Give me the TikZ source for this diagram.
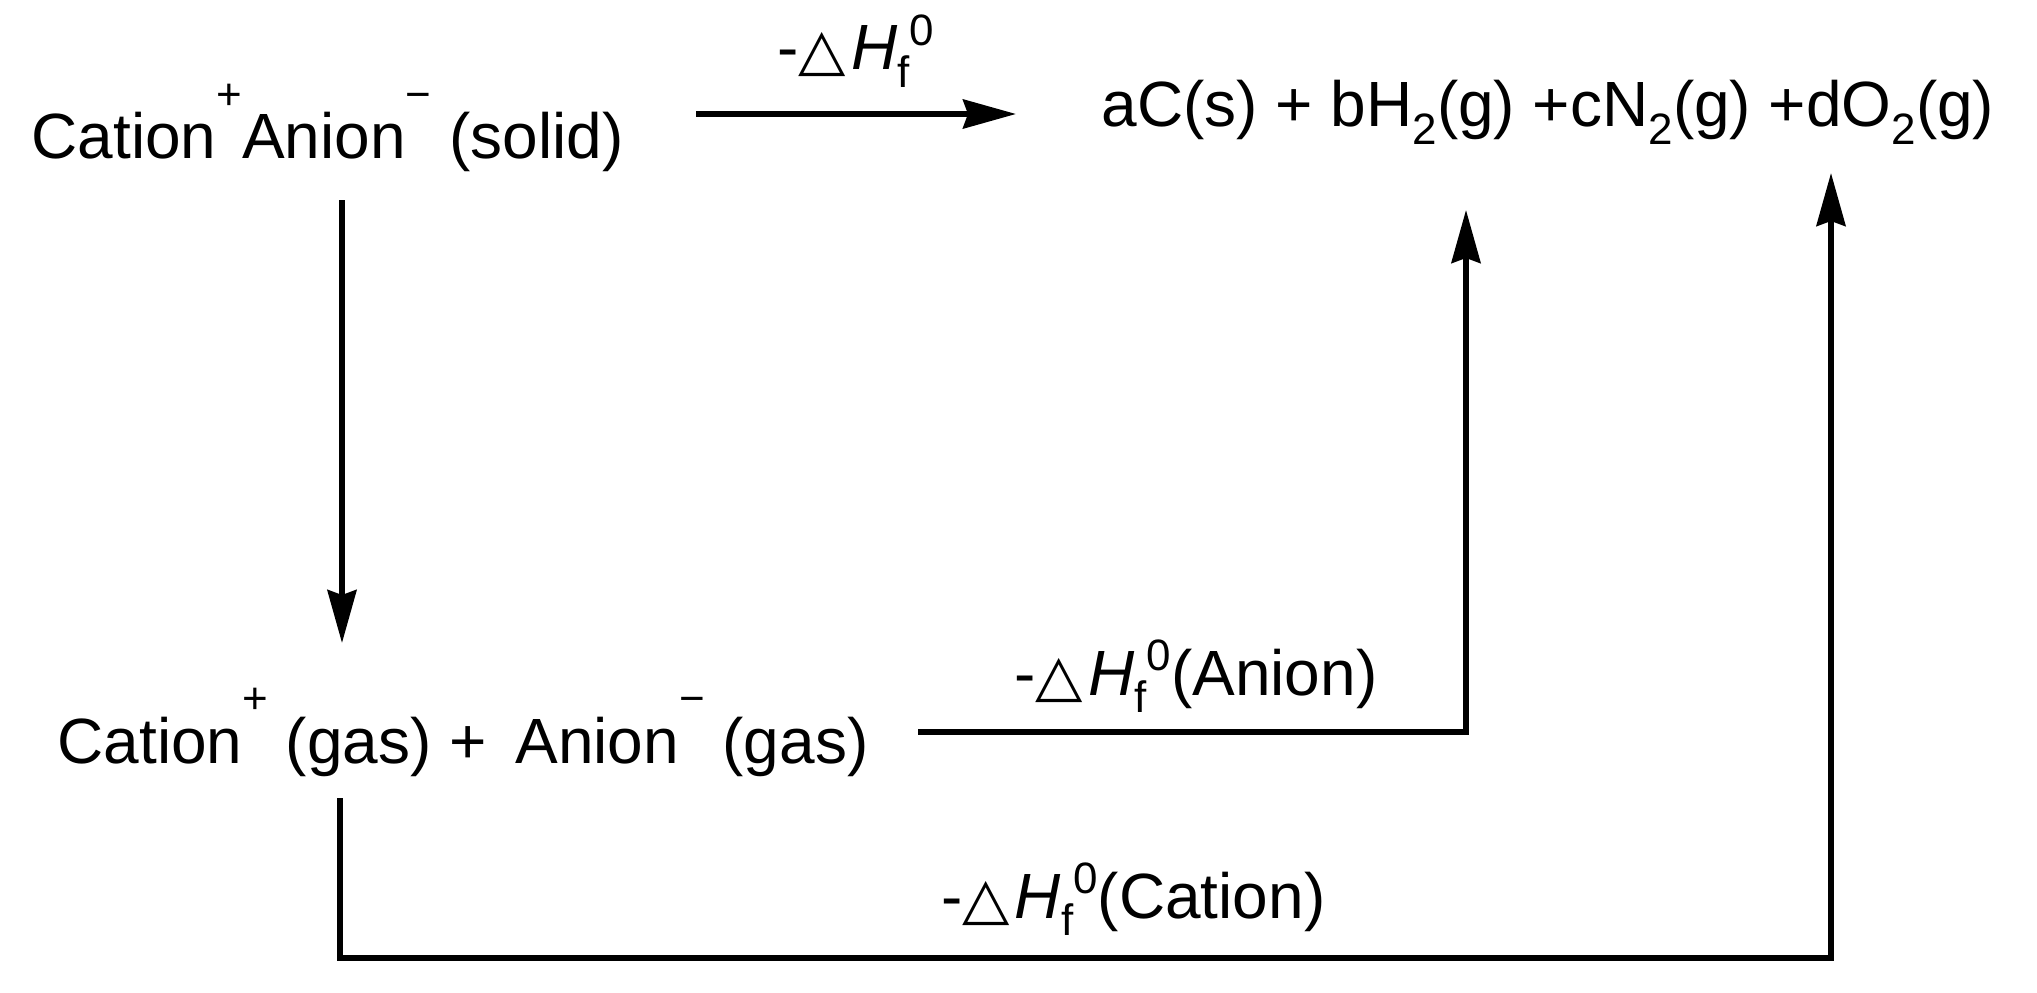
\documentclass[tikz,border=0pt]{standalone}
\usepackage{fontspec}
\setmainfont{Liberation Sans}
\newfontfamily\trifont{DejaVu Sans}
\usepackage{graphicx}
\usetikzlibrary{arrows.meta, positioning, calc}
\newcommand{\chg}[1]{\raisebox{0.78em}{\fontsize{12.5}{13}\selectfont #1}}
\newcommand{\lowsub}[1]{\raisebox{-0.28em}{\fontsize{12.5}{13}\selectfont #1}}
\newcommand{\dHf}{-\resizebox{0.74em}{0.58em}{\trifont △}\hspace{0.08em}\textit{H}\raisebox{-0.27em}{\fontsize{12.5}{13}\selectfont f}\raisebox{0.38em}{\fontsize{12.5}{13}\selectfont 0}}
\tikzset{
    species/.style = {inner sep=0pt, anchor=base west, font=\fontsize{18.2}{21}\selectfont},
    enthalpy/.style = {species, anchor=base east},
}

\begin{document}
\begin{tikzpicture}[>={Stealth[length=5.3mm, width=2.9mm, inset=0.5mm]}, line width=1.5pt]
    \useasboundingbox (0,0) rectangle (20.37,9.92);
    % species
    \node [species] (solid) at (0.29,8.33) {Cation\chg{+}Anion\chg{−} (solid)};
    \node [species] (elem) at (10.99,8.65) {aC(s) + bH\lowsub{2}(g) +cN\lowsub{2}(g) +dO\lowsub{2}(g)};
    \node [species] (gas) at (0.55,2.29) {Cation\chg{+} (gas) +\hspace{0.45em}Anion\chg{−} (gas)};
    % enthalpies
    \node [species] (dh) at (7.75,9.22) {\dHf};
    \node [enthalpy] (dhanion) at (13.80,2.97) {\dHf(Anion)};
    \node [enthalpy] (dhcation) at (13.28,0.74) {\dHf(Cation)};
    % arrow ends
    \coordinate (t1) at (6.96,8.78);
    \coordinate (t2) at (10.16,8.78);
    \coordinate (d1) at (3.42,7.92);
    \coordinate (d2) at (3.42,3.49);
    \coordinate (a1) at (9.18,2.60);
    \coordinate (a2) at (14.66,7.82);
    \coordinate (c1) at (3.40,1.94);
    \coordinate (c0) at (3.40,0.34);
    \coordinate (c2) at (18.31,8.19);
    \draw [->] (t1) -- (t2);
    \draw [->] (d1) -- (d2);
    \draw [->] (a1) -| (a2);
    \draw [->] (c1) -- (c0) -| (c2);
\end{tikzpicture}
\end{document}
